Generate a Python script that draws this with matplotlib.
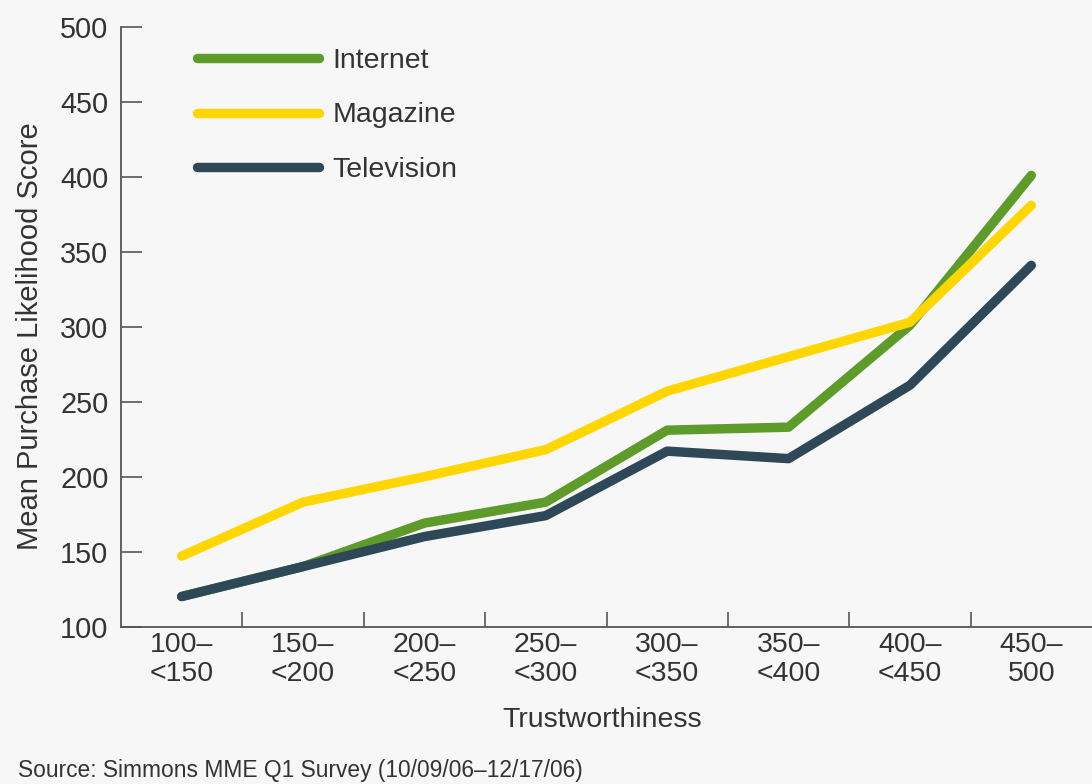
import matplotlib
matplotlib.use('Agg')
import matplotlib.pyplot as plt

plt.rcParams['font.family'] = ['Liberation Sans', 'DejaVu Sans']

# 数据
categories = ['100–\n<150', '150–\n<200', '200–\n<250', '250–\n<300',
              '300–\n<350', '350–\n<400', '400–\n<450', '450–\n500']
internet = [120, 140, 169, 183, 231, 233, 301, 401]
magazine = [147, 183, 200, 218, 257, 280, 303, 381]
television = [120, 140, 160, 174, 217, 212, 261, 341]
series_names = ['Internet', 'Magazine', 'Television']
series_colors = ['#5f9b2b', '#ffd600', '#2f4858']

bg = '#f7f7f7'
txt = '#333333'
axis_col = '#555555'

fig = plt.figure(figsize=(10.92, 7.84), dpi=100, facecolor=bg)
ax = fig.add_axes([121 / 1092, 1 - 626.5 / 784, 1 - 121 / 1092, (626.5 - 27) / 784])
ax.set_facecolor(bg)

x = list(range(len(categories)))
for vals, name, col in zip([internet, magazine, television], series_names, series_colors):
    ax.plot(x, vals, color=col, lw=6.8, label=name,
            solid_capstyle='round', solid_joinstyle='round')

ax.set_xlim(-0.5, 7.5)
ax.set_ylim(100, 500)

# 坐标轴样式
for s in ['top', 'right']:
    ax.spines[s].set_visible(False)
for s in ['left', 'bottom']:
    ax.spines[s].set_color(axis_col)
    ax.spines[s].set_linewidth(1.3)

ax.set_yticks(range(100, 501, 50))
ax.tick_params(axis='y', direction='in', length=15, width=1.2, color=axis_col,
               labelsize=20.8, labelcolor=txt, pad=9)
ax.set_xticks(x)
ax.set_xticklabels(categories, linespacing=1.15)
ax.set_xticks([i + 0.5 for i in range(7)], minor=True)
ax.tick_params(axis='x', which='major', length=0, labelsize=20.5, labelcolor=txt, pad=4)
ax.tick_params(axis='x', which='minor', direction='in', length=11, width=1.2, color=axis_col)

# 图例
leg = ax.legend(loc='upper left', bbox_to_anchor=(197 / 1092, 1 - 48 / 784),
                bbox_transform=fig.transFigure, frameon=False, fontsize=20.5,
                handlelength=4.3, handletextpad=0.45, labelspacing=1.0,
                borderpad=0, borderaxespad=0)
for t in leg.get_texts():
    t.set_color(txt)

fig.text(30 / 1092, 1 - 336 / 784, 'Mean Purchase Likelihood Score', rotation=90,
         ha='center', va='center', fontsize=21, color=txt)
fig.text(602 / 1092, 1 - 720 / 784, 'Trustworthiness', ha='center', va='center',
         fontsize=20.5, color=txt)
fig.text(18 / 1092, 1 - 771 / 784, 'Source: Simmons MME Q1 Survey (10/09/06–12/17/06)',
         ha='left', va='center', fontsize=16.4, color=txt)

fig.savefig('out.png', dpi=100, facecolor=bg)
